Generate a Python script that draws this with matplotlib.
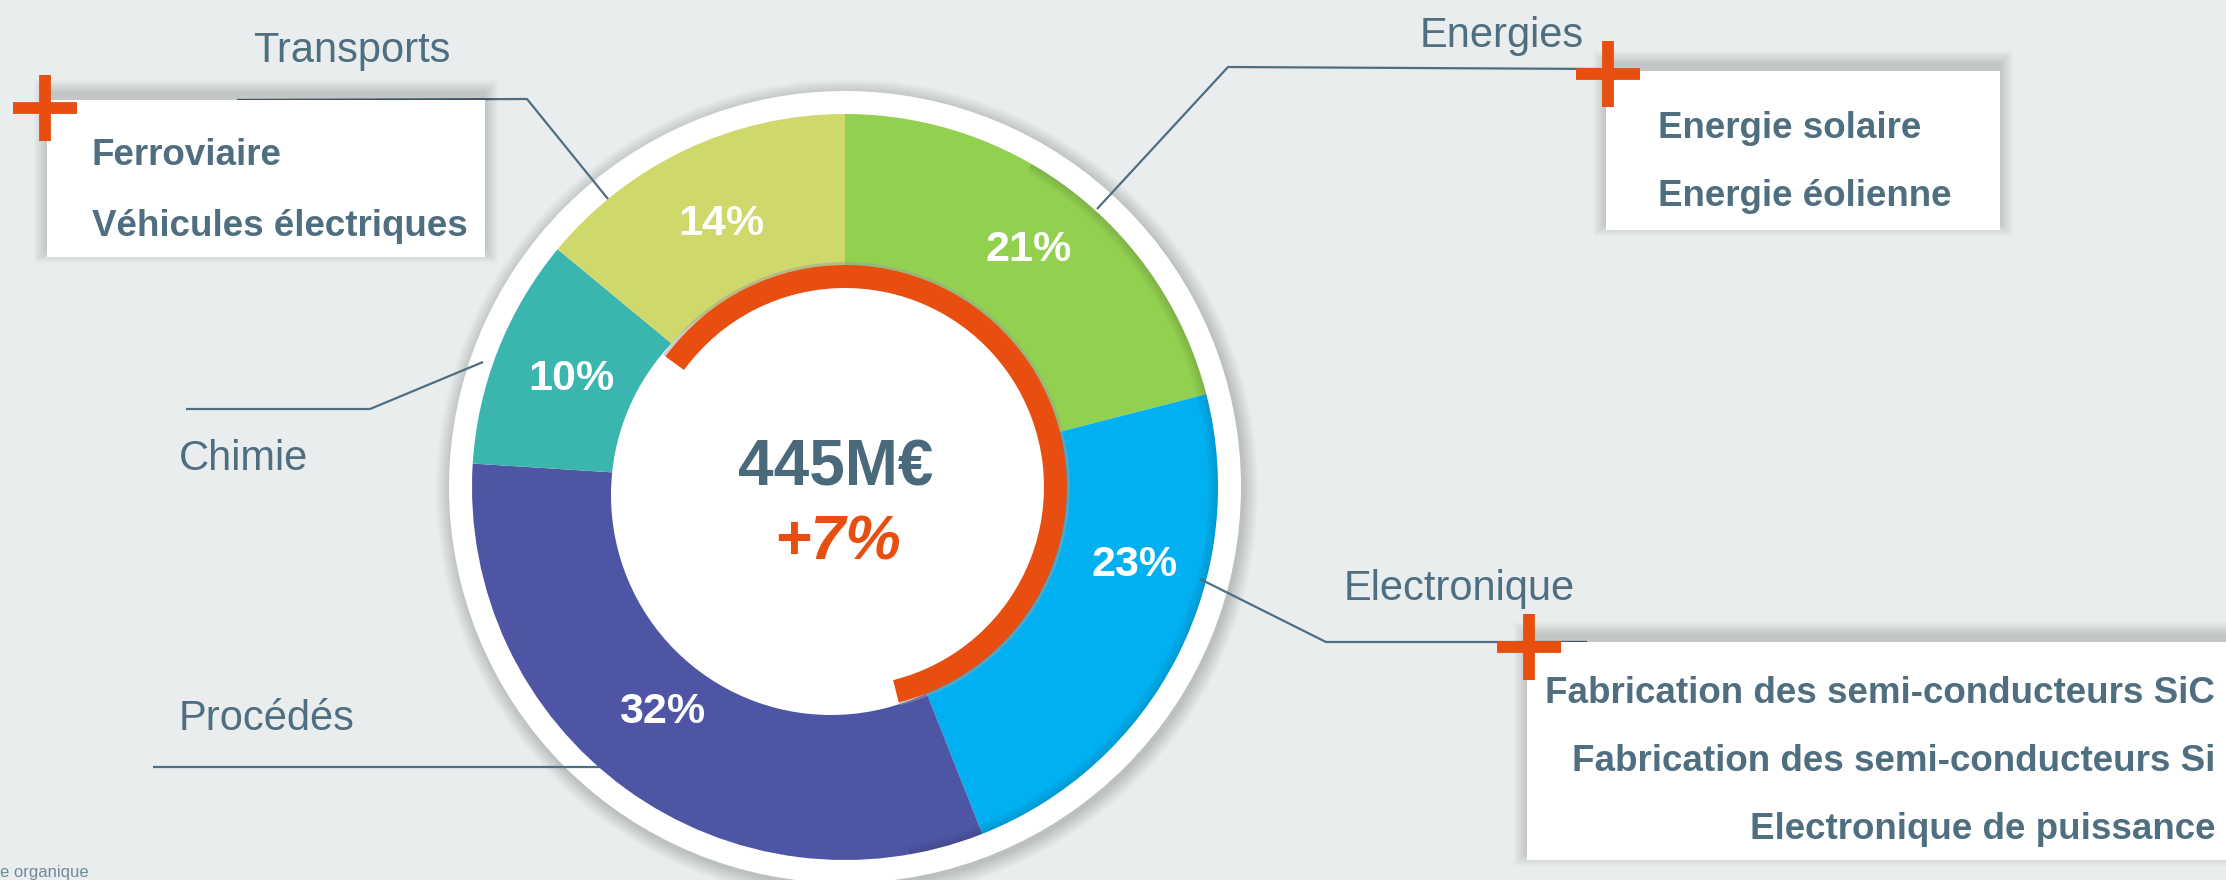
import numpy as np
import matplotlib
matplotlib.use('agg')
import matplotlib.pyplot as plt
from matplotlib.patches import Circle, Wedge, Rectangle

W, H = 2226, 880
plt.rcParams['font.family'] = ['Liberation Sans', 'DejaVu Sans']

# donnees
secteurs = ["Energies", "Electronique", "Procédés", "Chimie", "Transports"]
parts = [21, 23, 32, 10, 14]
couleurs = ["#92D050", "#00B0F0", "#4E55A4", "#3BB6AE", "#CFD86B"]
total = "445M€"
croissance = "+7%"
details_transports = ["Ferroviaire", "Véhicules électriques"]
details_energies = ["Energie solaire", "Energie éolienne"]
details_electronique = ["Fabrication des semi-conducteurs SiC",
                        "Fabrication des semi-conducteurs Si",
                        "Electronique de puissance"]
note_bas = "e organique"

FOND = "#E9EDEE"
ARDOISE = "#4F6E7F"
ORANGE = "#E84E0F"

def Y(y):
    # coordonnees pixel (y vers le bas) -> donnees
    return H - y

fig = plt.figure(figsize=(W / 100, H / 100), dpi=100, facecolor=FOND)
ax = fig.add_axes([0, 0, 1, 1])
ax.set_facecolor(FOND)

cx, cy = 845, 487
R = 373

# ombre + anneau blanc autour du donut
for k in range(1, 16):
    ax.add_patch(Circle((cx + 2, Y(cy) - 3), 396 + k, color='k', alpha=0.012, lw=0, zorder=1))
ax.add_patch(Circle((cx, Y(cy)), 396, color='white', lw=0, zorder=2))

wedges, _, autotexts = ax.pie(parts, colors=couleurs, startangle=90, counterclock=False,
                              center=(cx, Y(cy)), radius=R,
                              wedgeprops=dict(width=180, linewidth=0),
                              autopct='%d%%', pctdistance=0.79,
                              textprops=dict(color='white', fontsize=31, fontweight='bold'))
for w in wedges:
    w.set_zorder(3)

# legere ombre interne sur le bord exterieur des secteurs
for k in range(10):
    ax.add_patch(Wedge((cx, Y(cy)), R, -80, 60, width=k + 1, color='k', alpha=0.01, lw=0, zorder=4))

# place des pourcentages
decal = [0, 12, -3, 0, 0]
rayons = [300, 300, 290, 294, 291]
for t, w, da, r in zip(autotexts, wedges, decal, rayons):
    a = np.deg2rad((w.theta1 + w.theta2) / 2 + da)
    t.set_position((cx + r * np.cos(a), Y(cy) + r * np.sin(a)))
    t.set_zorder(8)

# trou blanc legerement decale
ax.add_patch(Circle((cx - 14, Y(cy + 8)), 220, color='white', lw=0, zorder=5))
# arc orange
ax.add_patch(Wedge((cx, Y(cy)), 225, -76, 144, width=3, color='#9aa0a3', alpha=0.5, lw=0, zorder=5))
ax.add_patch(Wedge((cx, Y(cy)), 222, -76, 144, width=23, color=ORANGE, lw=0, zorder=6))

ax.text(cx - 9, Y(468), total, ha='center', va='center', fontsize=46, fontweight='bold',
        color="#4A6A7B", zorder=9)
ax.text(cx - 7, Y(543), croissance, ha='center', va='center', fontsize=45, fontweight='bold',
        fontstyle='italic', color=ORANGE, zorder=9)

# lignes de rappel
def ligne(pts):
    xs = [p[0] for p in pts]
    ys = [Y(p[1]) for p in pts]
    ax.plot(xs, ys, color=ARDOISE, lw=1.6, zorder=7, solid_capstyle='butt')

ligne([(237, 100), (527, 99), (608, 199)])
ligne([(1601, 69), (1228, 67), (1097, 209)])
ligne([(186, 409), (370, 409), (483, 362)])
ligne([(1200, 579), (1326, 642), (1587, 642)])
ligne([(153, 767), (600, 767)])

# cadres blancs avec ombre
def cadre(x0, y0, x1, y1):
    w, h = x1 - x0, y1 - y0
    for k in range(1, 14):
        ax.add_patch(Rectangle((x0 - k, Y(y1) - k + 7), w + 2 * k, h + 2 * k,
                               color='k', alpha=0.011, lw=0, zorder=9))
    ax.add_patch(Rectangle((x0, Y(y1)), w, h, color='white', lw=0, zorder=10))

def croix(x, y):
    ax.plot([x - 32, x + 32], [Y(y), Y(y)], color=ORANGE, lw=8.5, solid_capstyle='butt', zorder=12)
    ax.plot([x, x], [Y(y - 33), Y(y + 33)], color=ORANGE, lw=8.5, solid_capstyle='butt', zorder=12)

cadre(47, 100, 485, 257)
cadre(1606, 71, 2000, 230)
cadre(1527, 642, W + 20, 860)
croix(45, 108)
croix(1608, 74)
croix(1529, 647)

# textes des cadres
for txt, yb in zip(details_transports, [165, 236]):
    ax.text(92, Y(yb), txt, ha='left', va='baseline', fontsize=26.5, fontweight='bold',
            color=ARDOISE, zorder=13)
for txt, yb in zip(details_energies, [138, 206]):
    ax.text(1658, Y(yb), txt, ha='left', va='baseline', fontsize=26.5, fontweight='bold',
            color=ARDOISE, zorder=13)
for txt, yb in zip(details_electronique, [703, 771, 839]):
    ax.text(2215, Y(yb), txt, ha='right', va='baseline', fontsize=26.5, fontweight='bold',
            color=ARDOISE, zorder=13)

# noms des secteurs
positions = {"Transports": (253, 62), "Energies": (1420, 47), "Chimie": (179, 470),
             "Electronique": (1344, 600), "Procédés": (179, 730)}
for nom in secteurs:
    x, yb = positions[nom]
    ax.text(x, Y(yb), nom, ha='left', va='baseline', fontsize=30, color=ARDOISE, zorder=13)

ax.text(0, Y(877), note_bas, ha='left', va='baseline', fontsize=12, color="#6F8A98", zorder=13)

ax.set_xlim(0, W)
ax.set_ylim(0, H)
ax.set_aspect('equal')
ax.axis('off')

fig.savefig('out.png', dpi=100, facecolor=FOND)
